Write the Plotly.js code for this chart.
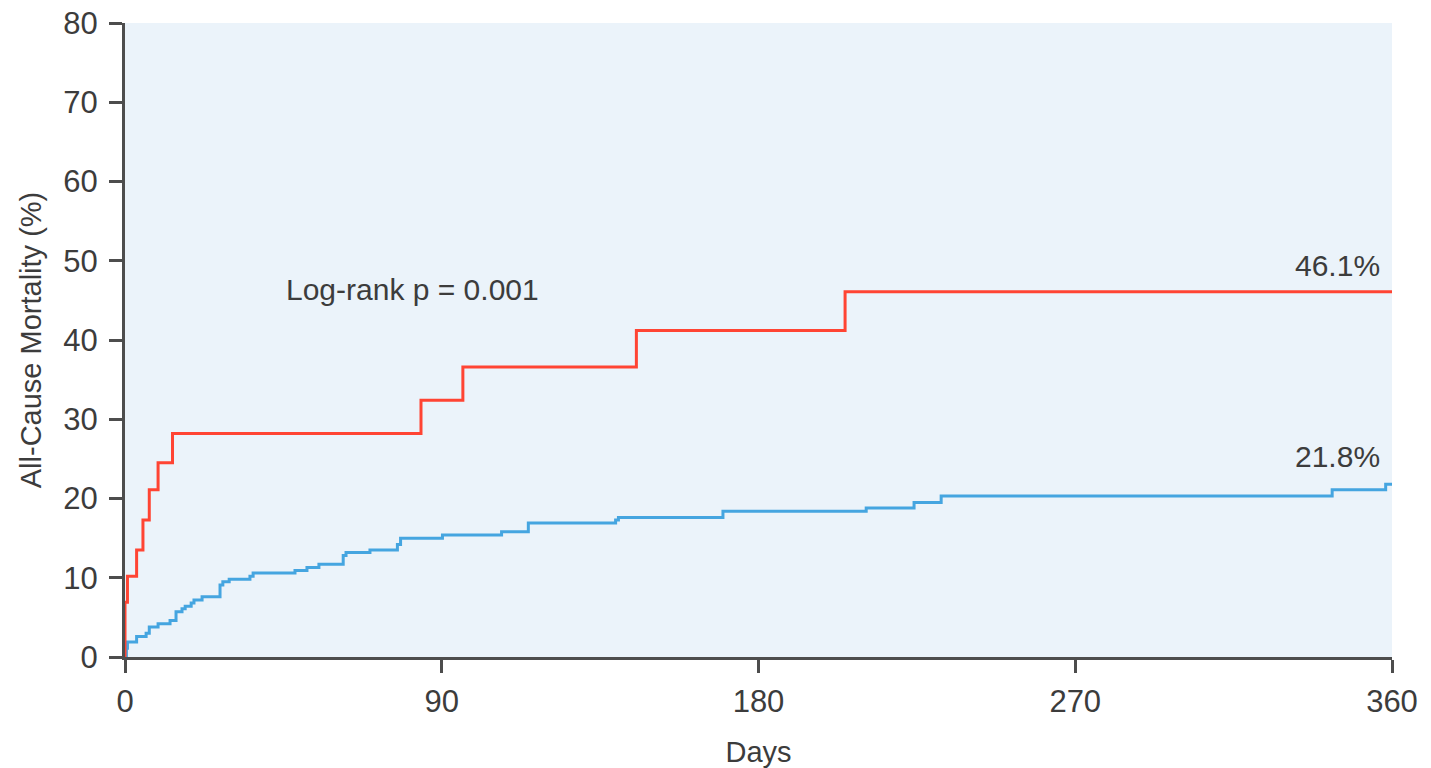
<!DOCTYPE html>
<html>
<head>
<meta charset="utf-8">
<script src="https://cdn.plot.ly/plotly-3.0.1.min.js"></script>
<style>html,body{margin:0;padding:0;background:#fff;}#chart{width:1431px;height:768px;}</style>
</head>
<body>
<div id="chart"></div>
<script>
// Kaplan-Meier step data (days, cumulative all-cause mortality %)
const redDays = [0, 0, 0.7, 3.3, 5.1, 6.9, 9.4, 13.5, 84.1, 96.0, 145.3, 204.6, 360];
const redMortality = [0, 6.9, 10.2, 13.5, 17.3, 21.1, 24.5, 28.2, 32.4, 36.6, 41.2, 46.1, 46.1];

const blueDays = [0, 0.4, 0.7, 3.3, 6.0, 6.9, 9.4, 12.8, 14.5, 16.2, 17.1, 18.8, 19.6, 21.9, 27.0, 27.8, 29.6, 35.5, 36.4, 48.3, 51.7, 55.1, 62.0, 62.8, 69.6, 77.4, 78.3, 90.2, 107.0, 114.6, 139.4, 140.2, 169.9, 210.6, 224.2, 231.9, 343.0, 358.2, 360];
const blueMortality = [0, 1.1, 1.9, 2.6, 3.0, 3.8, 4.2, 4.6, 5.7, 6.1, 6.4, 6.8, 7.2, 7.6, 9.1, 9.5, 9.8, 10.2, 10.6, 10.9, 11.3, 11.7, 12.8, 13.2, 13.5, 14.2, 15.0, 15.4, 15.8, 16.9, 17.3, 17.6, 18.4, 18.8, 19.5, 20.3, 21.1, 21.8, 21.8];

const xTicks = [0, 90, 180, 270, 360];
const yTicks = [0, 10, 20, 30, 40, 50, 60, 70, 80];

const endLabels = ["46.1%", "21.8%"];
const pText = "Log-rank p = 0.001";

const textColor = "#3c3c3c";
const axisColor = "#4d4d4d";
const fontFamily = "Liberation Sans, Arial, sans-serif";

const traces = [
  {x: blueDays, y: blueMortality, type: "scatter", mode: "lines",
   line: {shape: "hv", color: "#45a5e0", width: 3}, hoverinfo: "skip"},
  {x: redDays, y: redMortality, type: "scatter", mode: "lines",
   line: {shape: "hv", color: "#ff4433", width: 3}, hoverinfo: "skip"}
];

const layout = {
  width: 1431, height: 768,
  margin: {l: 125, r: 39, t: 23, b: 111, pad: 0},
  paper_bgcolor: "#ffffff",
  plot_bgcolor: "#ebf3fa",
  showlegend: false,
  font: {family: fontFamily, color: textColor, size: 30},
  xaxis: {
    range: [0, 360], tickvals: xTicks, ticktext: xTicks.map(String),
    showgrid: false, zeroline: false,
    showline: true, linecolor: axisColor, linewidth: 3,
    ticks: "outside", ticklen: 13, tickwidth: 3, tickcolor: axisColor,
    tickfont: {size: 31, color: textColor}, ticklabelstandoff: 2,
    title: {text: "Days", font: {size: 29, color: textColor}, standoff: 26},
    layer: "below traces", fixedrange: true
  },
  yaxis: {
    range: [0, 80], tickvals: yTicks, ticktext: yTicks.map(String),
    showgrid: false, zeroline: false,
    showline: true, linecolor: axisColor, linewidth: 3,
    ticks: "outside", ticklen: 13, tickwidth: 3, tickcolor: axisColor,
    tickfont: {size: 31, color: textColor}, ticklabelstandoff: 5,
    title: {text: "All-Cause Mortality (%)", font: {size: 29, color: textColor}, standoff: 14},
    layer: "below traces", fixedrange: true
  },
  annotations: [
    {x: 45.1, y: 46.4, xref: "x", yref: "y", text: pText, showarrow: false,
     xanchor: "left", yanchor: "middle", font: {size: 30, color: textColor}},
    {x: 357.1, y: 49.4, xref: "x", yref: "y", text: endLabels[0], showarrow: false,
     xanchor: "right", yanchor: "middle", font: {size: 30, color: textColor}},
    {x: 357.1, y: 25.3, xref: "x", yref: "y", text: endLabels[1], showarrow: false,
     xanchor: "right", yanchor: "middle", font: {size: 30, color: textColor}}
  ]
};

Plotly.newPlot("chart", traces, layout, {displayModeBar: false, staticPlot: true});
</script>
</body>
</html>
